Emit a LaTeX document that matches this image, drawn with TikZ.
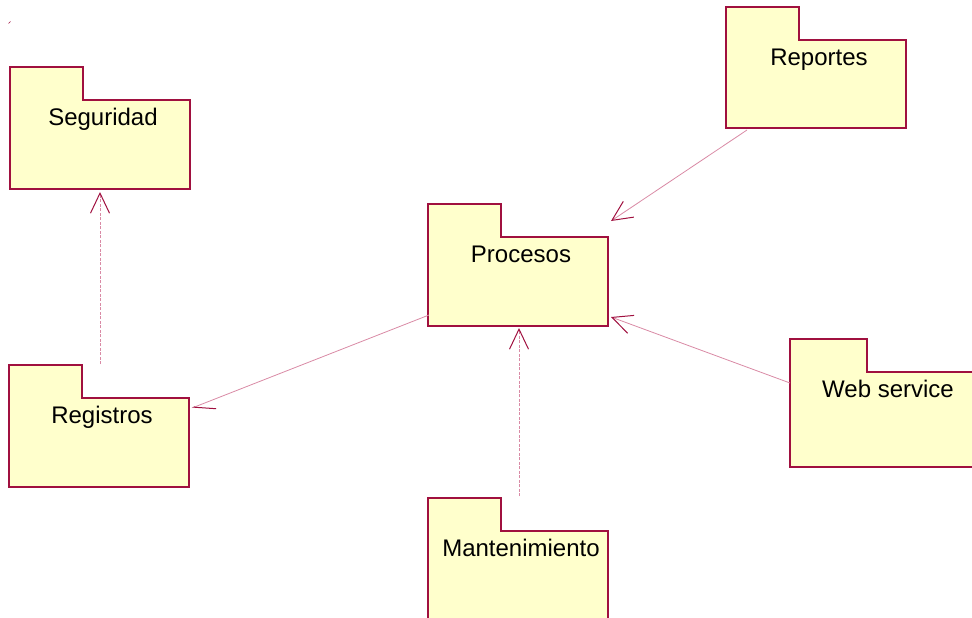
\documentclass[tikz,border=0pt]{standalone}
\usepackage{fontspec}
\setmainfont{Liberation Sans}
\usetikzlibrary{arrows.meta,calc}

\definecolor{rosered}{HTML}{A0103F}
\definecolor{linkpink}{HTML}{D98AA5}
\definecolor{pkgfill}{HTML}{FFFFCC}

\tikzset{
  pkgbody/.style={rectangle, fill=pkgfill, inner sep=0pt, outer sep=0pt},
  pkgtab/.style={rectangle, fill=pkgfill, inner sep=0pt, outer sep=0pt, minimum height=33pt},
  pkgedge/.style={draw=rosered, line width=1.1pt, line join=miter},
  pkglabel/.style={anchor=base, inner sep=0pt, font=\fontsize{24pt}{28pt}\selectfont},
  opentip/.style={-{Straight Barb[length=20pt,width=19pt,line width=1pt,color=rosered]}},
  halftip/.style={-{Straight Barb[length=20pt,width=19pt,line width=1pt,color=rosered,harpoon]}},
  assoc/.style={draw=linkpink, line width=0.8pt},
  depend/.style={draw=linkpink, line width=0.8pt, dash pattern=on 3pt off 1.5pt},
}

% name, centre, width, height, tab width, label
\newcommand{\umlpackage}[6]{%
  \node[pkgbody, minimum width=#3pt, minimum height=#4pt] (#1) at (#2) {};
  \node[pkgtab, minimum width=#5pt, anchor=south west] (#1-tab) at (#1.north west) {};
  \draw[pkgedge] (#1.north west) |- (#1-tab.north east) |- (#1.north east)
                 |- (#1.south west) -- cycle;
  \node[pkglabel] (#1-label) at ($(#1.north)+(3,25.5)$) {#6};
}

\begin{document}
\begin{tikzpicture}[x=1pt,y=-1pt]
  \useasboundingbox (0,0) rectangle (972,618);
  \clip (0,0) rectangle (972,618);

  \umlpackage{seg}{100,144.5}{180}{89}{73}{Seguridad}
  \umlpackage{proc}{518,281.5}{180}{89}{73}{Procesos}
  \umlpackage{reg}{99,442.5}{180}{89}{73}{Registros}
  \umlpackage{mant}{518,581}{180}{100}{73}{Mantenimiento}
  \umlpackage{rep}{816,84}{180}{88}{73}{Reportes}
  \umlpackage{web}{885,419.5}{190}{95}{77}{Web service}

  % small stray tick in the upper left corner
  \draw[rosered, line width=0.7pt] (8.5,23.5) -- (10.5,21.5);

  % dependencies
  \draw[depend, opentip] ($(reg.north)+(1,-34)$) -- ($(seg.south)+(0,3)$);
  \draw[depend, opentip] ($(mant.north)+(1,-35)$) -- ($(proc.south)+(1,2)$);

  % associations
  \draw[assoc, opentip] ($(rep.south west)+(21,2)$) -- ($(proc.north east)+(3,-16)$);
  \draw[assoc, opentip] ($(web.north west)+(0,11)$) -- ($(proc.south east)+(3,-9)$);
  \draw[assoc, halftip] ($(proc.south west)+(1,-11)$) -- ($(reg.north east)+(3,10)$);
\end{tikzpicture}
\end{document}
